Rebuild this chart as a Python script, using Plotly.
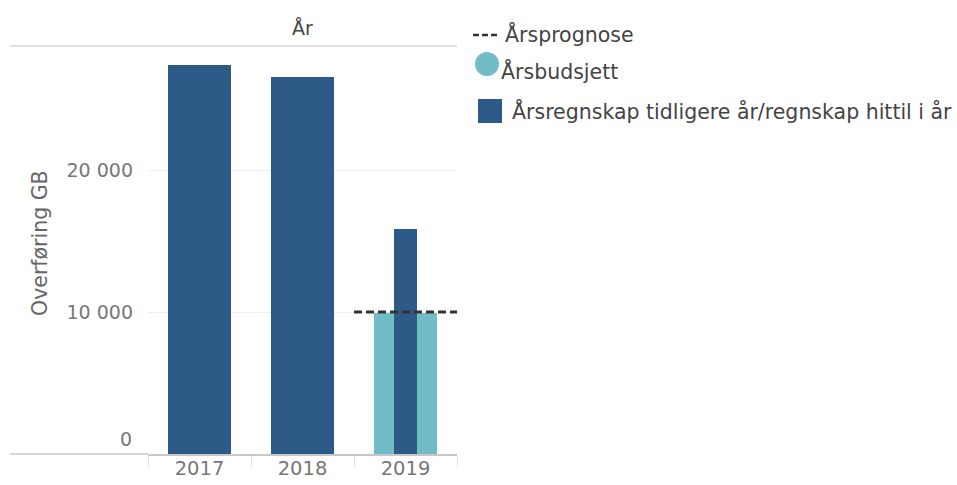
import plotly.graph_objects as go

years = ["2017", "2018", "2019"]
regnskap = [27400, 26550, 15850]
budsjett_years = ["2019"]
budsjett = [9950]
prognose_year = "2019"
prognose = 10000
y_ticks = [10000, 20000]

DARK = "#2e5a87"
TEAL = "#72bcc8"
FONT = "DejaVu Sans"

# plot area in pixels
L, R, T, B = 148, 457, 46, 454
W, H = 957, 485
pw = R - L
ph = B - T

def px(x):
    return (x - L) / pw

def py(y):
    return (B - y) / ph

fig = go.Figure()
fig.add_trace(go.Bar(x=budsjett_years, y=budsjett, marker_color=TEAL, width=0.61,
                     marker_line_width=0, showlegend=False, name="Årsbudsjett"))
fig.add_trace(go.Bar(x=years, y=regnskap, marker_color=DARK,
                     width=[0.61 if y != "2019" else 0.22 for y in years],
                     marker_line_width=0, showlegend=False,
                     name="Årsregnskap tidligere år/regnskap hittil i år"))

ci = years.index(prognose_year)
fig.add_shape(type="line", xref="x", yref="y", x0=ci - 0.5, x1=ci + 0.5,
              y0=prognose, y1=prognose, line=dict(color="#333333", width=3, dash="8px,4px"))

# frame lines extending left of the plot
fig.add_shape(type="line", xref="paper", yref="paper", x0=px(10), x1=1, y0=1, y1=1,
              line=dict(color="#d6d6d6", width=1.5))
fig.add_shape(type="line", xref="paper", yref="paper", x0=px(10), x1=0, y0=0, y1=0,
              line=dict(color="#c8c8c8", width=1.5))

# header
fig.add_annotation(text="År", xref="paper", yref="paper", x=px(302), y=py(28),
                   xanchor="center", yanchor="middle",
                   showarrow=False, font=dict(family=FONT, size=19, color="#444444"))
# y title
fig.add_annotation(text="Overføring GB", xref="paper", yref="paper", x=px(40), y=py(243),
                   xanchor="center", yanchor="middle",
                   textangle=-90, showarrow=False, font=dict(family=FONT, size=20.5, color="#666666"))
# zero label
fig.add_annotation(text="0", xref="paper", yref="y", x=px(134), y=0, xanchor="right",
                   yanchor="middle", yshift=15, showarrow=False,
                   font=dict(family=FONT, size=19, color="#777777"))

# legend (manual)
LEG = 20.5
fig.add_shape(type="line", xref="paper", yref="paper", x0=px(473), x1=px(499), y0=py(35), y1=py(35),
              line=dict(color="#333333", width=2.5, dash="6px,3px"))
fig.add_annotation(text="Årsprognose", xref="paper", yref="paper", x=px(503), y=py(34),
                   xanchor="left", yanchor="middle", showarrow=False,
                   font=dict(family=FONT, size=LEG, color="#444444"))
fig.add_shape(type="circle", xref="paper", yref="paper", x0=px(475), x1=px(499), y0=py(52), y1=py(76),
              fillcolor=TEAL, line=dict(width=0))
fig.add_annotation(text="Årsbudsjett", xref="paper", yref="paper", x=px(499), y=py(71),
                   xanchor="left", yanchor="middle", showarrow=False,
                   font=dict(family=FONT, size=LEG, color="#444444"))
fig.add_shape(type="rect", xref="paper", yref="paper", x0=px(478), x1=px(502), y0=py(99), y1=py(123),
              fillcolor=DARK, line=dict(width=0))
fig.add_annotation(text="Årsregnskap tidligere år/regnskap hittil i år", xref="paper", yref="paper",
                   x=px(510), y=py(111), xanchor="left", yanchor="middle", showarrow=False,
                   font=dict(family=FONT, size=LEG, color="#444444"))

ymax = (B - T) / (B - 312) * 10000

fig.update_layout(
    width=W, height=H,
    margin=dict(l=L, r=W - R, t=T, b=H - B, autoexpand=False),
    paper_bgcolor="white", plot_bgcolor="white",
    barmode="overlay", bargap=0,
    separators=", ",
    showlegend=False,
    font=dict(family=FONT, size=19, color="#777777"),
    xaxis=dict(type="category", categoryorder="array", categoryarray=years,
               range=[-0.5, 2.5], showgrid=False, showline=True, linecolor="#c8c8c8", linewidth=1.5,
               ticks="outside", tickson="boundaries", ticklen=11, tickcolor="#e0e0e0",
               ticklabelstandoff=-4,
               tickfont=dict(family=FONT, size=19.5, color="#777777")),
    yaxis=dict(range=[0, ymax], tickvals=y_ticks, tickformat=",d", showgrid=True,
               gridcolor="#eeeeee", gridwidth=1, zeroline=False, showline=False,
               ticks="", ticklabelstandoff=14,
               tickfont=dict(family=FONT, size=19, color="#777777")),
)

fig.write_html("out.html", config={"displayModeBar": False},
               post_script="document.body.style.margin='0';document.body.style.overflow='hidden';")
